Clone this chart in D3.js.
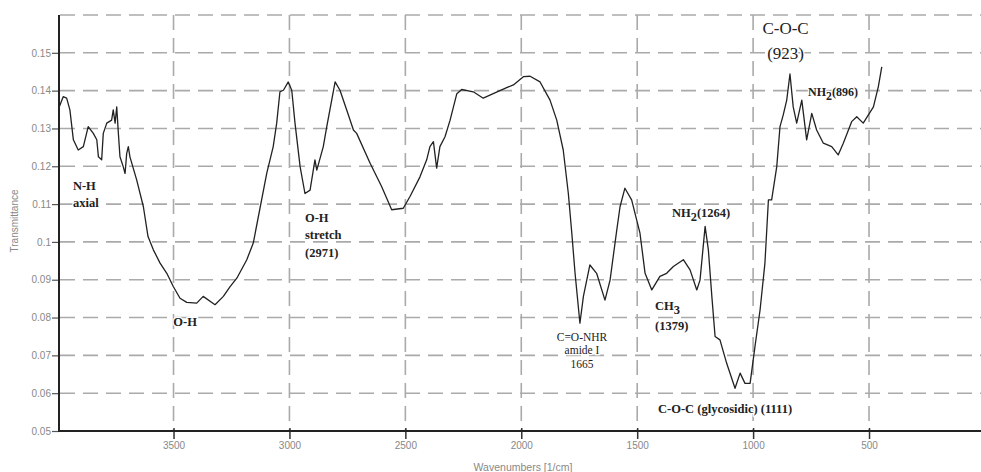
<!DOCTYPE html>
<html><head><meta charset="utf-8">
<script src="https://cdn.jsdelivr.net/npm/d3@7"></script>
<style>body{margin:0;background:#fff}svg{display:block}</style>
</head><body><svg id="c" width="981" height="472"></svg>
<script>
const wavenumbers = [3993,3976,3961,3947,3932,3911,3889,3868,3846,3831,3824,3810,3803,3788,3767,3760,3752,3745,3738,3731,3717,3709,3702,3695,3688,3659,3630,3610,3587,3558,3529,3501,3472,3443,3400,3372,3321,3285,3256,3227,3184,3156,3098,3070,3055,3041,3026,3005,2990,2976,2954,2933,2911,2890,2882,2854,2839,2803,2782,2753,2724,2710,2652,2602,2559,2509,2480,2437,2408,2394,2379,2365,2351,2329,2307,2278,2257,2207,2164,2121,2063,2034,1991,1962,1919,1876,1847,1819,1797,1782,1768,1747,1732,1704,1675,1639,1617,1588,1574,1553,1524,1488,1466,1437,1402,1373,1344,1301,1272,1243,1229,1207,1193,1178,1164,1143,1114,1078,1056,1035,1013,992,970,949,934,920,898,884,870,855,841,827,812,790,769,747,726,697,661,633,611,575,553,525,481,460,445];
const transmittance = [0.1357,0.1384,0.1380,0.1349,0.1270,0.1243,0.1252,0.1305,0.1287,0.1270,0.1225,0.1217,0.1287,0.1314,0.1322,0.1349,0.1314,0.1357,0.1288,0.1225,0.1199,0.1181,0.1234,0.1252,0.1225,0.1164,0.1093,0.1014,0.0979,0.0944,0.0917,0.0882,0.0851,0.0840,0.0838,0.0856,0.0834,0.0856,0.0882,0.0904,0.0953,0.0997,0.1181,0.1252,0.1314,0.1397,0.1401,0.1423,0.1401,0.1314,0.1199,0.1128,0.1137,0.1217,0.1190,0.1252,0.1305,0.1423,0.1401,0.1349,0.1296,0.1287,0.1208,0.1146,0.1085,0.1089,0.1120,0.1172,0.1217,0.1252,0.1265,0.1195,0.1252,0.1278,0.1322,0.1392,0.1403,0.1397,0.1380,0.1392,0.1408,0.1415,0.1437,0.1438,0.1423,0.1375,0.1322,0.1243,0.1128,0.1023,0.0917,0.0785,0.0856,0.0939,0.0917,0.0846,0.0899,0.1032,0.1093,0.1142,0.1111,0.1023,0.0917,0.0873,0.0909,0.0917,0.0935,0.0953,0.0926,0.0873,0.0899,0.1041,0.0979,0.0856,0.0750,0.0741,0.0679,0.0613,0.0653,0.0626,0.0626,0.0723,0.0820,0.0944,0.1111,0.1111,0.1199,0.1305,0.1336,0.1375,0.1444,0.1357,0.1314,0.1375,0.1270,0.1340,0.1296,0.1261,0.1252,0.1230,0.1261,0.1318,0.1331,0.1314,0.1357,0.1410,0.1463];
const xTicks = [3500,3000,2500,2000,1500,1000,500];
const yTicks = [0.05,0.06,0.07,0.08,0.09,0.1,0.11,0.12,0.13,0.14,0.15];
const yGrid = [0.06,0.07,0.08,0.09,0.1,0.11,0.12,0.13,0.14,0.15,0.16];
const annotations = [
  {lines:["N-H","axial"], w:3934, v:0.1137, anchor:"start", size:12.5, bold:true, lh:17},
  {lines:["O-H","stretch","(2971)"], w:2933, v:0.1053, anchor:"start", size:12.5, bold:true, lh:17.5},
  {lines:["O-H"], w:3450, v:0.0778, anchor:"middle", size:12.5, bold:true},
  {lines:["C=O-NHR","amide I","1665"], w:1738, v:0.0738, anchor:"middle", size:11.5, bold:false, lh:13.5},
  {lines:["CH|3","(1379)"], w:1423, v:0.0820, anchor:"start", size:12.5, bold:true, lh:20},
  {lines:["NH|2(1264)"], w:1350, v:0.1066, anchor:"start", size:12.5, bold:true},
  {lines:["C-O-C (glycosidic) (1111)"], w:1410, v:0.0548, anchor:"start", size:12.5, bold:true},
  {lines:["C-O-C","(923)"], w:860, v:0.1550, anchor:"middle", size:17, bold:false, lh:25},
  {lines:["NH|2(896)"], w:763, v:0.1386, anchor:"start", size:12, bold:true}
];

const svg = d3.select("#c");
const x = d3.scaleLinear().domain([3994,17]).range([59,981]);
const y = d3.scaleLinear().domain([0.05,0.16]).range([431,15]);

const g = svg.append("g");
g.selectAll(".hg").data(yGrid).enter().append("line")
  .attr("x1",60).attr("x2",981).attr("y1",d=>y(d)).attr("y2",d=>y(d))
  .attr("stroke","#aaa").attr("stroke-width",1.6).attr("stroke-dasharray","15,8");
g.selectAll(".vg").data(xTicks).enter().append("line")
  .attr("x1",d=>x(d)).attr("x2",d=>x(d)).attr("y1",15).attr("y2",431)
  .attr("stroke","#aaa").attr("stroke-width",1.6).attr("stroke-dasharray","15,8");

const yAxis = d3.axisLeft(y).tickValues(yTicks).tickSize(7).tickFormat(d3.format("~g"));
const ya = svg.append("g").attr("transform","translate(59,0)").call(yAxis);
ya.select(".domain").remove();
ya.selectAll(".tick line").attr("stroke","#555").attr("stroke-width",1.2);
ya.selectAll(".tick text").attr("fill","#888").attr("font-family","Liberation Sans, Arial").attr("font-size",10).attr("x",-8);

const xAxis = d3.axisBottom(x).tickValues(xTicks).tickSize(8).tickFormat(d3.format("d"));
const xa = svg.append("g").attr("transform","translate(0,431)").call(xAxis);
xa.select(".domain").remove();
xa.selectAll(".tick line").attr("stroke","#333").attr("stroke-width",1.5).attr("y1",-3).attr("y2",8);
xa.selectAll(".tick text").attr("fill","#888").attr("font-family","Liberation Sans, Arial").attr("font-size",10).attr("y",11);

svg.append("line").attr("x1",59).attr("x2",59).attr("y1",15).attr("y2",432).attr("stroke","#222").attr("stroke-width",2);
svg.append("line").attr("x1",58).attr("x2",981).attr("y1",431).attr("y2",431).attr("stroke","#222").attr("stroke-width",2);

svg.append("text").attr("transform","translate(18,221) rotate(-90)").attr("text-anchor","middle")
  .attr("font-family","Liberation Sans, Arial").attr("font-size",10).attr("fill","#888").text("Transmittance");
svg.append("text").attr("x",523).attr("y",471).attr("text-anchor","middle")
  .attr("font-family","Liberation Sans, Arial").attr("font-size",10.5).attr("fill","#888").text("Wavenumbers [1/cm]");

const pts = wavenumbers.map((w,i)=>[w,transmittance[i]]);
svg.append("path").datum(pts)
  .attr("d", d3.line().x(d=>x(d[0])).y(d=>y(d[1])))
  .attr("fill","none").attr("stroke","#222").attr("stroke-width",1.3).attr("stroke-linejoin","round");

annotations.forEach(a=>{
  const lh = a.lh || a.size*1.4;
  a.lines.forEach((ln,i)=>{
    const t = svg.append("text").attr("x",x(a.w)).attr("y",y(a.v)+i*lh)
      .attr("text-anchor",a.anchor).attr("font-family","Liberation Serif, Times New Roman, serif")
      .attr("font-size",a.size).attr("font-weight",a.bold?"bold":"normal").attr("fill","#222")
      .attr("stroke","#fff").attr("stroke-width",2.5).attr("paint-order","stroke").attr("stroke-linejoin","round");
    const parts = ln.split("|");
    t.append("tspan").text(parts[0]);
    if(parts.length>1){
      const m = parts[1].match(/^(\d)(.*)$/);
      t.append("tspan").attr("dy",4).text(m[1]);
      if(m[2]) t.append("tspan").attr("dy",-4).text(m[2]);
    }
  });
});
</script></body></html>
